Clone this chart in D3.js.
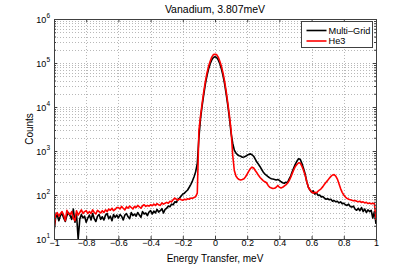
<!DOCTYPE html>
<html>
<head>
<meta charset="utf-8">
<script src="https://cdn.jsdelivr.net/npm/d3@7"></script>
<style>
  body { margin: 0; background: #fff; }
  text { font-family: "Liberation Sans", Arial, Helvetica, sans-serif; fill: #000; }
</style>
</head>
<body>
<svg id="chart"></svg>
<script>
// energy bins, -1 .. 1 meV in 0.01 steps
const energy = d3.range(-100, 101).map(i => i / 100);

const multiGrid = [
  15, 30, 36, 26, 34, 38, 30, 25, 34, 40,
  34, 28, 48, 24, 36, 10, 28, 36, 30, 33,
  24, 30, 35, 27, 38, 29, 25, 33, 36, 28,
  32, 27, 35, 38, 29, 33, 26, 36, 31, 35,
  30, 36, 33, 27, 35, 38, 32, 29, 40, 34,
  37, 33, 40, 35, 31, 42, 37, 39, 34, 41,
  44, 37, 43, 39, 47, 41, 44, 49, 39, 47,
  50, 56, 54, 62, 60, 70, 68, 80, 85, 95,
  105, 110, 120, 130, 150, 175, 210, 260, 340, 520,
  2000, 5400, 10600, 19000, 33000, 51000, 73000, 96000, 118000, 133000,
  138000, 133000, 118000, 96000, 73000, 51000, 33000, 19000, 10600, 5400,
  2500, 1500, 1050, 900, 820, 780, 760, 720, 730, 760,
  800, 840, 860, 820, 760, 650, 560, 500, 440, 380,
  330, 300, 280, 260, 245, 235, 230, 225, 220, 225,
  215, 200, 190, 185, 195, 190, 230, 270, 340, 420,
  510, 600, 670, 640, 520, 400, 300, 200, 150, 130,
  115, 125, 105, 112, 98, 100, 90, 92, 85, 80,
  82, 78, 80, 72, 75, 70, 72, 66, 70, 63,
  65, 60, 58, 62, 55, 53, 56, 48, 45, 50,
  44, 52, 42, 48, 40, 46, 42, 45, 30, 42,
  22
];

const he3 = [
  17, 36, 40, 33, 38, 42, 35, 26, 45, 38,
  36, 42, 30, 26, 44, 35, 40, 46, 38, 42,
  44, 38, 42, 38, 46, 40, 37, 45, 42, 39,
  44, 40, 46, 42, 48, 45, 50, 44, 47, 52,
  52, 48, 55, 50, 46, 54, 50, 56, 52, 48,
  55, 52, 58, 54, 50, 57, 60, 55, 58, 56,
  60, 57, 62, 58, 64, 60, 58, 66, 62, 65,
  68, 65, 72, 70, 78, 85, 80, 76, 82, 78,
  76, 80, 78, 82, 80, 85, 84, 88, 92, 110,
  2900, 6200, 12000, 22000, 37600, 59000, 84000, 110000, 136000, 155000,
  158000, 155000, 136000, 110000, 84000, 59000, 37600, 22000, 12000, 6200,
  2900, 800, 360, 270, 240, 225, 220, 225, 235, 260,
  300, 350, 400, 430, 410, 360, 320, 280, 250, 230,
  210, 200, 190, 165, 150, 145, 140, 142, 150, 165,
  150, 145, 150, 160, 170, 185, 210, 250, 310, 380,
  450, 500, 540, 530, 450, 360, 280, 200, 150, 130,
  118, 110, 115, 112, 122, 130, 140, 155, 175, 195,
  215, 240, 265, 285, 290, 270, 230, 180, 140, 115,
  100, 90, 84, 80, 78, 76, 74, 75, 72, 70,
  72, 68, 70, 66, 68, 64, 66, 63, 65, 64,
  27
];

const xTicks = [-1, -0.8, -0.6, -0.4, -0.2, 0, 0.2, 0.4, 0.6, 0.8, 1];
const yExponents = [1, 2, 3, 4, 5, 6];
const seriesNames = ['Multi\u2013Grid', 'He3'];
const seriesColors = ['#000000', '#ff0000'];

const W = 415, H = 269;
const margin = { top: 19, right: 39, bottom: 30, left: 54 };
const width = W - margin.left - margin.right;
const height = H - margin.top - margin.bottom;

const svg = d3.select('#chart').attr('width', W).attr('height', H);
const g = svg.append('g').attr('transform', `translate(${margin.left},${margin.top})`);

const x = d3.scaleLinear().domain([-1, 1]).range([0, width]);
const y = d3.scaleLog().domain([10, 1e6]).range([height, 0]);

// minor decades 2..9
const minorY = [];
yExponents.slice(0, -1).forEach(e => {
  for (let m = 2; m <= 9; m++) minorY.push(m * Math.pow(10, e));
});
const majorY = yExponents.map(e => Math.pow(10, e));

const gridColor = '#b8b8b8';
// grid lines (dotted)
g.append('g').selectAll('line.hgrid')
  .data(minorY.concat(majorY.slice(1, -1)))
  .enter().append('line')
  .attr('x1', 0).attr('x2', width)
  .attr('y1', d => Math.round(y(d)) + 0.5).attr('y2', d => Math.round(y(d)) + 0.5)
  .attr('stroke', gridColor).attr('stroke-dasharray', '1,2');

g.append('g').selectAll('line.vgrid')
  .data(xTicks.slice(1, -1))
  .enter().append('line')
  .attr('x1', d => Math.round(x(d)) + 0.5).attr('x2', d => Math.round(x(d)) + 0.5)
  .attr('y1', 0).attr('y2', height)
  .attr('stroke', gridColor).attr('stroke-dasharray', '1,2');

// clip for the curves
svg.append('defs').append('clipPath').attr('id', 'plotclip')
  .append('rect').attr('width', width).attr('height', height);

const line = d3.line()
  .x((d, i) => x(energy[i]))
  .y(d => y(d));

[multiGrid, he3].forEach((s, k) => {
  g.append('path')
    .datum(s)
    .attr('clip-path', 'url(#plotclip)')
    .attr('fill', 'none')
    .attr('stroke', seriesColors[k])
    .attr('stroke-width', 1.6)
    .attr('stroke-linejoin', 'round')
    .attr('d', line);
});

// axes (ticks inward, box all round)
const axisColor = '#404040';
const tickLen = 3;

const xAxisB = d3.axisBottom(x).tickValues(xTicks).tickSizeInner(-tickLen).tickSizeOuter(0)
  .tickFormat(d => d3.format('')(d).replace('-', '\u2212'));
const gxB = g.append('g').attr('transform', `translate(0,${height})`).call(xAxisB);
gxB.selectAll('text').attr('dy', 0).attr('y', 7).style('font-size', '9px');

const gxT = g.append('g').call(d3.axisTop(x).tickValues(xTicks).tickSizeInner(-tickLen).tickSizeOuter(0).tickFormat(''));

const gyL = g.append('g').call(d3.axisLeft(y).tickValues(majorY).tickSizeInner(-tickLen).tickSizeOuter(0).tickFormat(''));
const gyR = g.append('g').attr('transform', `translate(${width},0)`)
  .call(d3.axisRight(y).tickValues(majorY).tickSizeInner(-tickLen).tickSizeOuter(0).tickFormat(''));

// minor y ticks
const gyLm = g.append('g').call(d3.axisLeft(y).tickValues(minorY).tickSizeInner(-2).tickSizeOuter(0).tickFormat(''));
const gyRm = g.append('g').attr('transform', `translate(${width},0)`)
  .call(d3.axisRight(y).tickValues(minorY).tickSizeInner(-2).tickSizeOuter(0).tickFormat(''));

[gxB, gxT, gyL, gyR, gyLm, gyRm].forEach(a => {
  a.select('.domain').attr('stroke', axisColor);
  a.selectAll('.tick line').attr('stroke', axisColor);
});

// y tick labels 10^n
const ylab = g.append('g');
yExponents.forEach(e => {
  const t = ylab.append('text')
    .attr('x', -4)
    .attr('y', y(Math.pow(10, e)) + 4)
    .attr('text-anchor', 'end')
    .style('font-size', '9px');
  t.append('tspan').text('10');
  t.append('tspan').attr('dy', -5).style('font-size', '6.5px').text(e);
});

// box border on top of everything
g.append('rect').attr('x', 0.5).attr('y', 0.5).attr('width', width).attr('height', height)
  .attr('fill', 'none').attr('stroke', axisColor);

// title and axis labels
svg.append('text').attr('x', margin.left + width / 2).attr('y', 13)
  .attr('text-anchor', 'middle').style('font-size', '10.5px').text('Vanadium, 3.807meV');

svg.append('text').attr('x', margin.left + width / 2).attr('y', 262)
  .attr('text-anchor', 'middle').style('font-size', '10px').text('Energy Transfer, meV');

svg.append('text')
  .attr('transform', `translate(33,${margin.top + height / 2}) rotate(-90)`)
  .attr('text-anchor', 'middle').style('font-size', '10px').text('Counts');

// legend
const leg = svg.append('g').attr('transform', 'translate(301.5,21.5)');
leg.append('rect').attr('width', 71).attr('height', 26)
  .attr('fill', '#fff').attr('stroke', axisColor);
seriesNames.forEach((name, i) => {
  const ly = 9 + i * 10.5;
  leg.append('line').attr('x1', 5).attr('x2', 25).attr('y1', ly).attr('y2', ly)
    .attr('stroke', seriesColors[i]).attr('stroke-width', 1.6);
  leg.append('text').attr('x', 27).attr('y', ly + 3.3).style('font-size', '9.2px').text(name);
});
</script>
</body>
</html>
